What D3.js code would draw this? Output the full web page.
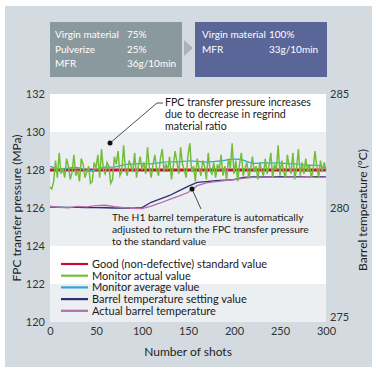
<!DOCTYPE html>
<html>
<head>
<meta charset="utf-8">
<script src="https://cdn.jsdelivr.net/npm/d3@7"></script>
<style>
  body { margin: 0; background: #fff; }
  svg text { font-family: Lato, "Open Sans", sans-serif; }
</style>
</head>
<body>
<div id="chart"></div>
<script>
// sizes
var chart_width = 376;
var chart_height = 373;

// data
var green_shots_step = 2;
var monitor_actual = [
  127.1, 127.0, 127.4, 128.5, 127.6, 128.9, 127.8, 128.1, 127.6, 128.6,
  128.2, 127.5, 127.9, 128.8, 127.7, 128.0, 127.4, 128.6, 128.3, 127.6,
  127.9, 128.2, 127.3, 127.4, 128.4, 128.1, 128.8, 127.6, 129.1, 128.0,
  127.8, 128.4, 128.2, 127.3, 127.5, 128.7, 128.3, 129.0, 127.7, 127.9,
  129.3, 128.0, 127.7, 128.5, 128.2, 127.9, 128.9, 127.6, 128.2, 128.7,
  128.0, 128.4, 127.8, 129.2, 128.1, 127.6, 128.3, 128.8, 128.0, 127.7,
  128.6, 129.1, 127.9, 128.3, 128.0, 128.7, 127.5, 128.2, 129.0, 128.4,
  127.8, 129.2, 128.3, 128.0, 127.6, 128.8, 129.4, 127.9, 128.2, 127.4,
  128.6, 128.1, 127.7, 128.5, 128.2, 127.5, 128.9, 128.0, 127.8, 128.4,
  127.6, 128.3, 128.0, 128.8, 127.7, 128.2, 127.5, 128.6, 128.1, 129.4,
  127.8, 128.5, 127.4, 128.3, 128.9, 127.7, 128.1, 128.4, 127.6, 128.0,
  128.7, 127.9, 128.2, 127.5, 128.4, 128.0, 127.7, 128.6, 127.8, 128.2,
  128.9, 127.6, 128.3, 128.0, 129.3, 127.7, 128.5, 127.9, 127.6, 128.8,
  128.2, 127.8, 128.9, 127.5, 128.1, 129.1, 127.7, 128.4, 127.8, 128.6,
  127.9, 128.3, 127.6, 128.0, 129.0, 128.2, 127.6, 128.5, 127.9, 128.4,
  128.0
];

var avg_shots = [0, 10, 20, 30, 40, 50, 60, 70, 80, 90, 100, 110, 120, 130, 140, 150,
                 160, 170, 180, 190, 200, 210, 220, 230, 240, 250, 260, 270, 280, 290, 300];
var monitor_average = [128.2, 128.0, 128.1, 128.2, 127.9, 128.0, 128.2, 128.1, 128.3, 128.3,
                       128.35, 128.3, 128.4, 128.45, 128.4, 128.5, 128.45, 128.4, 128.45, 128.5,
                       128.6, 128.55, 128.3, 128.4, 128.35, 128.4, 128.3, 128.35, 128.2, 128.3, 128.1];

var temp_shots = avg_shots;
var temp_setting = [280.04, 280.04, 280.03, 280.03, 280.02, 280.02, 280.01, 280.0, 280.0, 279.99,
                    280.02, 280.25, 280.4, 280.55, 280.75, 280.95, 281.12, 281.16, 281.2, 281.22,
                    281.24, 281.34, 281.36, 281.36, 281.37, 281.37, 281.37, 281.38, 281.38, 281.38, 281.38];
var temp_actual = [280.08, 280.03, 280.01, 280.07, 280.05, 280.1, 280.12, 280.06, 280.02, 279.98,
                   279.97, 280.08, 280.22, 280.38, 280.52, 280.68, 280.98, 281.1, 281.16, 281.2,
                   281.24, 281.3, 281.34, 281.35, 281.36, 281.34, 281.36, 281.35, 281.37, 281.34, 281.36];

var standard_value = 128;

var x_ticks = [0, 50, 100, 150, 200, 250, 300];
var y_ticks = [120, 122, 124, 126, 128, 130, 132];
var y2_ticks = [275, 280, 285];

var legend_names = ['Good (non-defective) standard value', 'Monitor actual value',
                    'Monitor average value', 'Barrel temperature setting value', 'Actual barrel temperature'];
var legend_colors = ['#c8102e', '#74bd3c', '#2ba6d6', '#2c2f72', '#b16fab'];

var box1_rows = [['Virgin material', '75%'], ['Pulverize', '25%'], ['MFR', '36g/10min']];
var box2_rows = [['Virgin material', '100%'], ['MFR', '33g/10min']];

var note1 = ['FPC transfer pressure increases', 'due to decrease in regrind', 'material ratio'];
var note2 = ['The H1 barrel temperature is automatically', 'adjusted to return the FPC transfer pressure', 'to the standard value'];

// scales
var x = d3.scaleLinear().domain([0, 300]).range([50, 326]);
var y = d3.scaleLinear().domain([120, 132]).range([322, 94]);
var y2 = d3.scaleLinear().domain([275, 285]).range([322, 94]);

var svg = d3.select('#chart')
            .append('svg')
            .attr('width', chart_width)
            .attr('height', chart_height);

// outer panel
svg.append('rect')
    .attr('x', 5).attr('y', 6)
    .attr('width', 367).attr('height', 361)
    .attr('fill', '#d3dbe0');

// material boxes
svg.append('rect').attr('x', 50).attr('y', 22).attr('width', 132).attr('height', 55).attr('fill', '#8a999e');
svg.append('rect').attr('x', 195).attr('y', 22).attr('width', 132).attr('height', 55).attr('fill', '#5a6598');
svg.append('path').attr('d', 'M184,40 L193,48 L184,56 Z').attr('fill', '#a9b3b8');

function boxText(rows, x0, x1) {
    rows.forEach(function(r, i){
        svg.append('text').attr('x', x0).attr('y', 38 + i * 14.5)
            .attr('fill', '#fff').attr('font-size', '10px').text(r[0]);
        svg.append('text').attr('x', x1).attr('y', 38 + i * 14.5)
            .attr('fill', '#fff').attr('font-size', '10px').text(r[1]);
    });
}
boxText(box1_rows, 55, 127);
boxText(box2_rows, 202, 269);

// plot background bands
svg.append('rect').attr('x', x(0)).attr('y', y(132)).attr('width', x(300) - x(0)).attr('height', y(120) - y(132)).attr('fill', '#ffffff');
[[130, 124], [122, 120]].forEach(function(b){
    svg.append('rect').attr('x', x(0)).attr('y', y(b[0]))
        .attr('width', x(300) - x(0)).attr('height', y(b[1]) - y(b[0]))
        .attr('fill', '#eceff2');
});

// axes
var xAxis = svg.append('g').attr('transform', 'translate(0,' + 322 + ')')
    .call(d3.axisBottom(x).tickValues(x_ticks).tickSize(0).tickPadding(5));
var yAxis = svg.append('g').attr('transform', 'translate(' + 50 + ',0)')
    .call(d3.axisLeft(y).tickValues(y_ticks).tickSize(0).tickPadding(5));
var y2Axis = svg.append('g').attr('transform', 'translate(' + 326 + ',0)')
    .call(d3.axisRight(y2).tickValues(y2_ticks).tickSize(0).tickPadding(4));
[xAxis, yAxis, y2Axis].forEach(function(a){
    a.select('.domain').remove();
    a.selectAll('text').attr('font-size', '11px').attr('fill', '#333')
        .style('font-family', 'Lato, "Open Sans", sans-serif');
});
y2Axis.select('.tick:first-of-type text').attr('dy', '-0.1em');

svg.append('text').attr('x', 188).attr('y', 356).attr('text-anchor', 'middle')
    .attr('font-size', '12px').attr('fill', '#222').text('Number of shots');
svg.append('text').attr('transform', 'translate(21,208) rotate(-90)').attr('text-anchor', 'middle')
    .attr('font-size', '12px').attr('fill', '#222').text('FPC transfer pressure (MPa)');
svg.append('text').attr('transform', 'translate(367,210) rotate(-90)').attr('text-anchor', 'middle')
    .attr('font-size', '12px').attr('fill', '#222').text('Barrel temperature (°C)');

// lines
var line = d3.line().x(function(d){ return x(d[0]); }).y(function(d){ return y(d[1]); });
var line2 = d3.line().x(function(d){ return x(d[0]); }).y(function(d){ return y2(d[1]); });

svg.append('path')
    .datum(temp_shots.map(function(s, i){ return [s, temp_setting[i]]; }))
    .attr('d', line2).attr('fill', 'none').attr('stroke', legend_colors[3]).attr('stroke-width', 1.3);
svg.append('path')
    .datum(temp_shots.map(function(s, i){ return [s, temp_actual[i]]; }))
    .attr('d', line2).attr('fill', 'none').attr('stroke', legend_colors[4]).attr('stroke-width', 1.3);
svg.append('path')
    .datum([[0, standard_value], [300, standard_value]])
    .attr('d', line).attr('fill', 'none').attr('stroke', legend_colors[0]).attr('stroke-width', 3);
svg.append('path')
    .datum(avg_shots.map(function(s, i){ return [s, monitor_average[i]]; }))
    .attr('d', line.curve(d3.curveBasis)).attr('fill', 'none').attr('stroke', legend_colors[2]).attr('stroke-width', 1.2);
line.curve(d3.curveLinear);
svg.append('path')
    .datum(monitor_actual.map(function(v, i){ return [i * green_shots_step, v]; }))
    .attr('d', line).attr('fill', 'none').attr('stroke', legend_colors[1]).attr('stroke-width', 1.5);

// annotations
function note(lines, x0, y0, fs) {
    lines.forEach(function(t, i){
        svg.append('text').attr('x', x0).attr('y', y0 + i * 12)
            .attr('font-size', fs).attr('fill', '#1a1a1a').text(t);
    });
}
note(note1, 165, 106, '10.6px');
note(note2, 112, 221, '10.2px');
svg.append('path').attr('d', 'M163,103 L157,103 L110,143').attr('fill', 'none').attr('stroke', '#222').attr('stroke-width', 0.8);
svg.append('circle').attr('cx', 110).attr('cy', 143).attr('r', 2.5).attr('fill', '#111');
svg.append('path').attr('d', 'M192,189 L201,209').attr('fill', 'none').attr('stroke', '#222').attr('stroke-width', 0.8);
svg.append('circle').attr('cx', 192).attr('cy', 189).attr('r', 2.5).attr('fill', '#111');

// legend
legend_names.forEach(function(n, i){
    var ly = 264 + i * 11.7;
    svg.append('line').attr('x1', 61).attr('x2', 88).attr('y1', ly).attr('y2', ly)
        .attr('stroke', legend_colors[i]).attr('stroke-width', 2.2);
    svg.append('text').attr('x', 92).attr('y', ly + 4)
        .attr('font-size', '11px').attr('fill', '#1a1a1a').text(n);
});
</script>
</body>
</html>
